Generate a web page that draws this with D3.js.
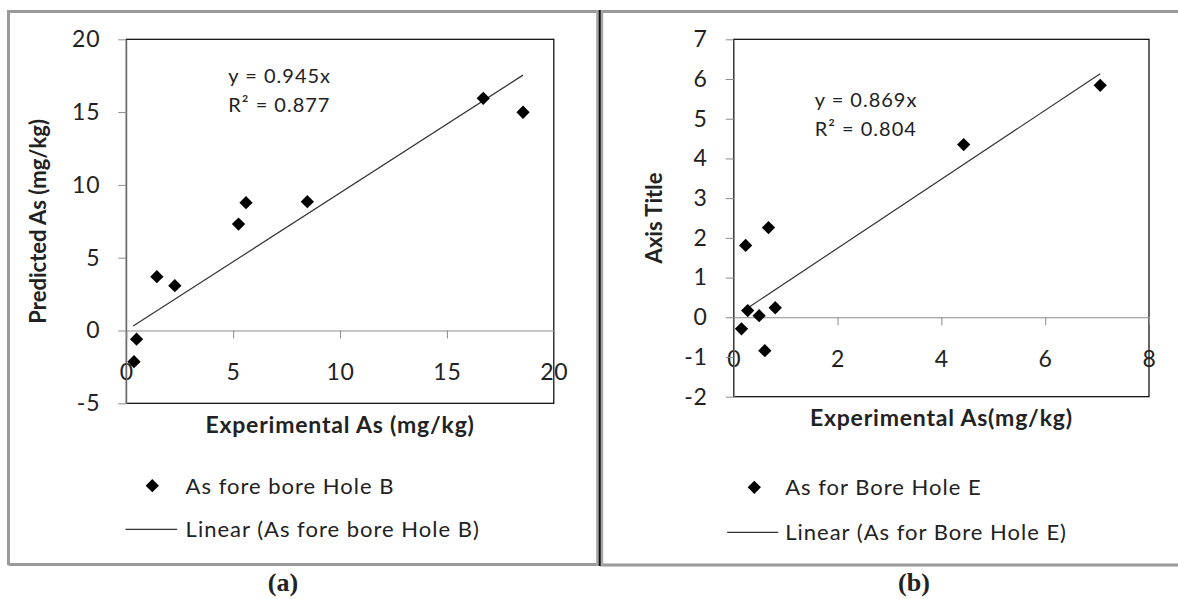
<!DOCTYPE html>
<html lang="en">
<meta charset="utf-8">
<head>
    <script src="https://d3js.org/d3.v7.min.js"></script>
    <style>
        body { margin: 0; background: #fff; }
        text { font-family: Lato, "Open Sans", sans-serif; fill: #222; }
    </style>
</head>
<body>
<script>
    // panel (a) - bore hole B
    var expA = [0.36, 0.48, 1.43, 2.27, 5.25, 5.60, 8.47, 16.70, 18.56];
    var predA = [-2.14, -0.60, 3.70, 3.08, 7.31, 8.78, 8.85, 15.95, 14.99];
    var xTicksA = [0, 5, 10, 15, 20];
    var yTicksA = [-5, 0, 5, 10, 15, 20];
    var slopeA = 0.945, r2A = 0.877;
    var trendA = [0.32, 18.56];

    // panel (b) - bore hole E
    var expB = [0.15, 0.23, 0.27, 0.49, 0.60, 0.67, 0.80, 4.43, 7.06];
    var predB = [-0.29, 1.81, 0.17, 0.04, -0.84, 2.26, 0.24, 4.35, 5.84];
    var xTicksB = [0, 2, 4, 6, 8];
    var yTicksB = [-2, -1, 0, 1, 2, 3, 4, 5, 6, 7];
    var slopeB = 0.869, r2B = 0.804;
    var trendB = [0.27, 7.06];

    var svg = d3.select("body")
        .append("svg")
        .attr("width", 1178)
        .attr("height", 599);

    // outer frame
    var frame = svg.append("g").attr("fill", "none");
    frame.append("path")
        .attr("d", "M8.5,565 V11.5 H1178 M8.5,564.5 H598 M600,565 H1178")
        .attr("stroke", "#9a9a9a")
        .attr("stroke-width", 3);
    frame.append("line")
        .attr("x1", 599.7).attr("x2", 599.7).attr("y1", 10).attr("y2", 566)
        .attr("stroke", "#a6a6a6").attr("stroke-width", 7);
    frame.append("line")
        .attr("x1", 599.7).attr("x2", 599.7).attr("y1", 10).attr("y2", 566)
        .attr("stroke", "#111").attr("stroke-width", 2);

    var diamond = d3.symbol().type(d3.symbolSquare).size(88);

    function panel(cfg) {
        var x = d3.scaleLinear().domain(cfg.xDomain).range([cfg.left, cfg.right]);
        var y = d3.scaleLinear().domain(cfg.yDomain).range([cfg.bottom, cfg.top]);
        var g = svg.append("g");

        // plot area border
        g.append("rect")
            .attr("x", cfg.left).attr("y", cfg.top)
            .attr("width", cfg.right - cfg.left)
            .attr("height", cfg.bottom - cfg.top)
            .attr("fill", "none")
            .attr("stroke", "#000")
            .attr("stroke-width", 1.2);

        // x axis at y = 0
        var xa = g.append("g")
            .attr("transform", "translate(0," + y(0) + ")")
            .call(d3.axisBottom(x).tickValues(cfg.xTicks).tickFormat(String)
                .tickSize(8).tickPadding(25).tickSizeOuter(0));
        xa.select(".domain").attr("stroke", "#8c8c8c");
        xa.selectAll(".tick line").attr("stroke", "#8c8c8c");
        xa.selectAll(".tick text")
            .style("font-size", "23px")
            .style("font-family", "Lato, sans-serif")
            .style("letter-spacing", "0.8px")
            .attr("fill", "#222");

        // y axis
        var ya = g.append("g")
            .attr("transform", "translate(" + cfg.left + ",0)")
            .call(d3.axisLeft(y).tickValues(cfg.yTicks).tickFormat(String)
                .tickSize(8).tickPadding(18).tickSizeOuter(0));
        ya.select(".domain").attr("stroke", "#8c8c8c");
        ya.selectAll(".tick line").attr("stroke", "#8c8c8c");
        ya.selectAll(".tick text")
            .style("font-size", "23px")
            .style("font-family", "Lato, sans-serif")
            .style("letter-spacing", "0.8px")
            .attr("fill", "#222");

        // trend line through origin
        g.append("line")
            .attr("x1", x(cfg.trend[0])).attr("y1", y(cfg.slope * cfg.trend[0]))
            .attr("x2", x(cfg.trend[1])).attr("y2", y(cfg.slope * cfg.trend[1]))
            .attr("stroke", "#333").attr("stroke-width", 1.2);

        // points
        g.selectAll(".pt")
            .data(cfg.xs)
            .enter()
            .append("path")
            .attr("class", "pt")
            .attr("d", diamond)
            .attr("fill", "#000")
            .attr("transform", function(d, i) {
                return "translate(" + x(d) + "," + y(cfg.ys[i]) + ") rotate(45)";
            });

        // equation
        g.append("text")
            .attr("x", cfg.left + cfg.eq[0]).attr("y", cfg.top + cfg.eq[1] + 7)
            .style("font-size", "20px").style("letter-spacing", "1px")
            .text("y = " + cfg.slope.toFixed(3) + "x");
        g.append("text")
            .attr("x", cfg.left + cfg.eq[0]).attr("y", cfg.top + cfg.eq[1] + 36)
            .style("font-size", "20px").style("letter-spacing", "1px")
            .text("R\u00b2 = " + cfg.r2.toFixed(3));

        // axis titles
        g.append("text")
            .attr("x", (cfg.left + cfg.right) / 2).attr("y", cfg.xTitleY + 8)
            .attr("text-anchor", "middle")
            .style("font-size", "23px").style("font-weight", "bold").style("letter-spacing", "0.8px")
            .text(cfg.xTitle);
        g.append("text")
            .attr("transform", "translate(" + (cfg.yTitleX + 8) + "," + (cfg.top + cfg.bottom) / 2 + ") rotate(-90)")
            .attr("text-anchor", "middle")
            .style("font-size", "22px").style("font-weight", "bold")
            .text(cfg.yTitle);

        // legend
        g.append("path")
            .attr("d", diamond)
            .attr("fill", "#000")
            .attr("transform", "translate(" + cfg.leg.dx + "," + cfg.leg.y1 + ") rotate(45)");
        g.append("text")
            .attr("x", cfg.leg.tx).attr("y", cfg.leg.y1 + 8)
            .style("font-size", "22px").style("letter-spacing", "1px")
            .text(cfg.name);
        g.append("line")
            .attr("x1", cfg.leg.l1).attr("x2", cfg.leg.l2)
            .attr("y1", cfg.leg.y2).attr("y2", cfg.leg.y2)
            .attr("stroke", "#333").attr("stroke-width", 1.2);
        g.append("text")
            .attr("x", cfg.leg.tx).attr("y", cfg.leg.y2 + 8)
            .style("font-size", "22px").style("letter-spacing", "1px")
            .text("Linear (" + cfg.name + ")");

        // caption
        g.append("text")
            .attr("x", cfg.capX).attr("y", 591)
            .attr("text-anchor", "middle")
            .style("font-family", "'Liberation Serif', serif")
            .style("font-size", "26px").style("font-weight", "bold")
            .attr("fill", "#000")
            .text(cfg.caption);
    }

    panel({
        xs: expA, ys: predA, xTicks: xTicksA, yTicks: yTicksA,
        xDomain: [0, 20], yDomain: [-5, 20],
        left: 126.3, right: 553.8, top: 39.3, bottom: 403.3,
        slope: slopeA, r2: r2A, trend: trendA,
        eq: [102, 37],
        xTitle: "Experimental As (mg/kg)", xTitleY: 425,
        yTitle: "Predicted As (mg/kg)", yTitleX: 38,
        name: "As fore bore Hole B",
        leg: {dx: 152.3, tx: 185.6, y1: 485.7, y2: 529.3, l1: 125.5, l2: 177.2},
        caption: "(a)", capX: 283
    });

    panel({
        xs: expB, ys: predB, xTicks: xTicksB, yTicks: yTicksB,
        xDomain: [0, 8], yDomain: [-2, 7],
        left: 733.7, right: 1149, top: 39.3, bottom: 396.7,
        slope: slopeB, r2: r2B, trend: trendB,
        eq: [81, 61],
        xTitle: "Experimental As(mg/kg)", xTitleY: 418.3,
        yTitle: "Axis Title", yTitleX: 654.4,
        name: "As for Bore Hole E",
        leg: {dx: 754.3, tx: 785.2, y1: 487.3, y2: 532.3, l1: 727.2, l2: 778.3},
        caption: "(b)", capX: 914
    });
</script>
</body>
</html>
